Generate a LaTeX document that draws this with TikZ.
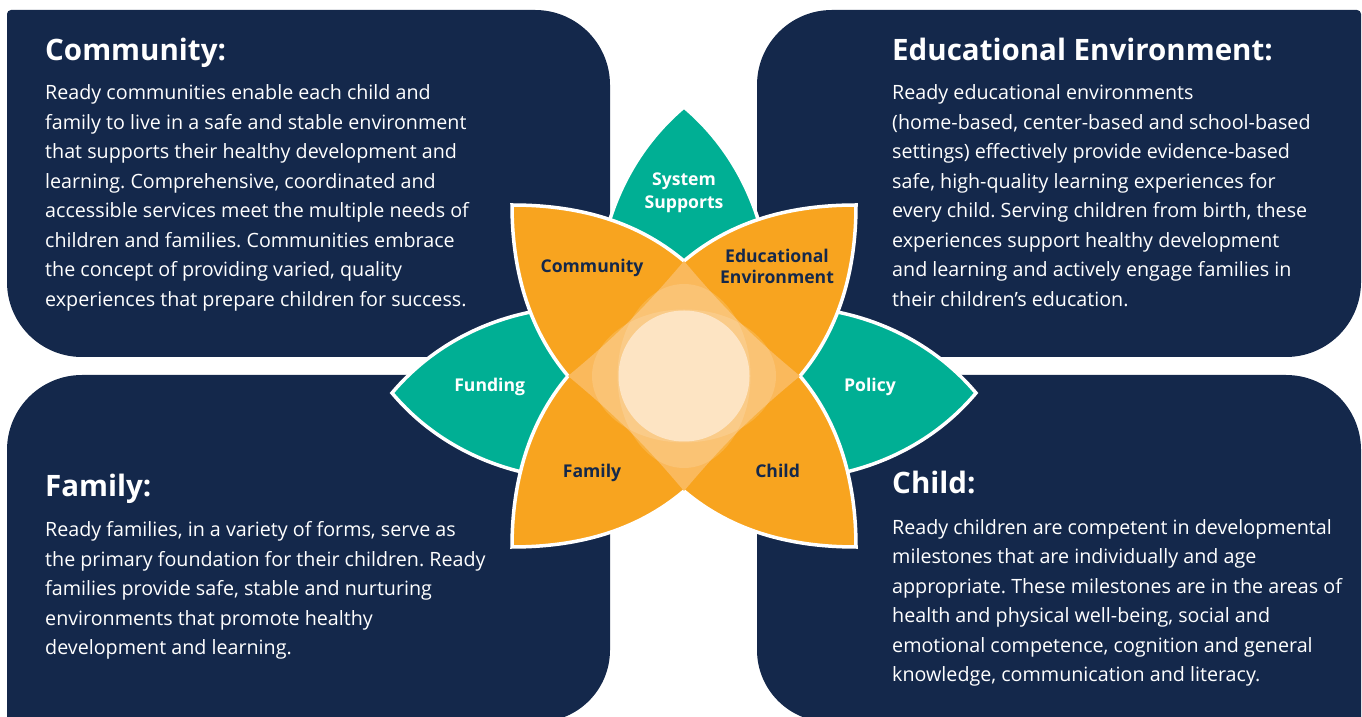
\documentclass[tikz,border=0pt]{standalone}
\usepackage{fontspec}
\setmainfont{Open Sans}
\frenchspacing
\definecolor{navy}{HTML}{14284B}
\definecolor{petal}{HTML}{F8A41F}
\definecolor{leaf}{HTML}{00AF94}
\definecolor{overlap}{HTML}{FAB95C}
\definecolor{core}{HTML}{FDE4C3}
\begin{document}
\begin{tikzpicture}[x=1pt, y=1pt,
  box/.style={fill=navy},
  heading/.style={anchor=base west, inner sep=0pt, text=white, font=\fontsize{29.5}{36}\selectfont\bfseries},
  body/.style={anchor=base west, inner sep=0pt, text=white, align=left, font=\fontsize{19.7}{29.5}\selectfont},
  leafshape/.style={fill=leaf, draw=white, line width=3.5pt},
  petalshape/.style={fill=petal, draw=white, line width=3.5pt},
  glow/.style={fill=white, fill opacity=0.15},
  leaflabel/.style={anchor=base, inner sep=0pt, text=white, align=center, font=\fontsize{17.6}{23.5}\selectfont\bfseries},
  petallabel/.style={anchor=base, inner sep=0pt, text=navy, align=center, font=\fontsize{17.6}{21}\selectfont\bfseries}]
\useasboundingbox (0,0) rectangle (1362,717);
\fill[box] (82,360) arc[start angle=270, end angle=180, radius=75pt] -- (7,703) arc[start angle=180, end angle=90, radius=4pt] -- (535,707) arc[start angle=90, end angle=0, radius=75pt] -- (610,360) -- cycle;
\fill[box] (757,360) -- (757,632) arc[start angle=180, end angle=90, radius=75pt] -- (1357,707) arc[start angle=90, end angle=0, radius=4pt] -- (1361,435) arc[start angle=0, end angle=-90, radius=75pt] -- cycle;
\fill[box] (7,-5) -- (7,267) arc[start angle=180, end angle=90, radius=75pt] -- (610,342) -- (610,67) arc[start angle=0, end angle=-90, radius=72pt] -- cycle;
\fill[box] (757,342) -- (1286,342) arc[start angle=90, end angle=0, radius=75pt] -- (1361,-5) -- (829,-5) arc[start angle=270, end angle=180, radius=72pt] -- cycle;
\coordinate (ctr) at (684,341);
\coordinate (tipcom) at (512,512);
\coordinate (tipedu) at (856,512);
\coordinate (tipfam) at (512,170);
\coordinate (tipchi) at (856,170);
\coordinate (valtop) at (684,456);
\coordinate (valleft) at (568,341);
\coordinate (valright) at (800,341);
\coordinate (valbot) at (684,226);
\coordinate (tipsys) at (684,610);
\coordinate (tipfun) at (392,324);
\coordinate (tippol) at (976,324);
\draw[leafshape] (tipsys) .. controls (799,513) and (799,323) .. (valbot) .. controls (569,323) and (569,513) .. cycle;
\draw[leafshape] (tipfun) .. controls (488.6,439.1) and (679.4,439.1) .. (776,324) .. controls (679.4,208.9) and (488.6,208.9) .. cycle;
\draw[leafshape] (tippol) .. controls (879.4,439.1) and (688.6,439.1) .. (592,324) .. controls (688.6,208.9) and (879.4,208.9) .. cycle;
\draw[petalshape] (tipcom) .. controls (575,512) and (635,497.5) .. (valtop)
  .. controls (733,497.5) and (793,512) .. (tipedu)
  .. controls (856,449) and (840.5,389) .. (valright)
  .. controls (840.5,293) and (856,233) .. (tipchi)
  .. controls (793,170) and (733,184.5) .. (valbot)
  .. controls (635,184.5) and (575,170) .. (tipfam)
  .. controls (512,233) and (527.5,293) .. (valleft)
  .. controls (527.5,389) and (512,449) .. cycle;
\fill[overlap] (valtop) to[bend left=5] (valleft) to[bend left=5] (valbot) to[bend left=5] (valright) to[bend left=5] (valtop) -- cycle;
\fill[glow] (ctr) ellipse[x radius=92pt, y radius=66.5pt];
\fill[glow] (ctr) ellipse[x radius=66.5pt, y radius=92pt];
\fill[core] (ctr) circle[radius=65.5pt];
\node[leaflabel] (lblsys) at (684,508.1) {System\\Supports};
\node[leaflabel] (lblfun) at (489.7,325.6) {Funding};
\node[leaflabel] (lblpol) at (870,325.6) {Policy};
\node[petallabel] (lblcom) at (592,444) {Community};
\node[petallabel] (lbledu) at (777,433.6) {Educational\\Environment};
\node[petallabel] (lblfam) at (592,239) {Family};
\node[petallabel] (lblchi) at (777.6,239) {Child};
\node[heading] (hcom) at (45,656) {Community:};
\node[body] (tcom) at (45,410.5) {Ready communities enable each child and\\family to live in a safe and stable environment\\that supports their healthy development and\\learning. Comprehensive, coordinated and\\accessible services meet the multiple needs of\\children and families. Communities embrace\\the concept of providing varied, quality\\experiences that prepare children for success.};
\node[heading] (hedu) at (892,656) {Educational Environment:};
\node[body] (tedu) at (892,410.5) {Ready educational environments\\(home-based, center-based and school-based\\settings) effectively provide evidence-based\\safe, high-quality learning experiences for\\every child. Serving children from birth, these\\experiences support healthy development\\and learning and actively engage families in\\their children’s education.};
\node[heading] (hfam) at (45,220.5) {Family:};
\node[body] (tfam) at (45,62.3) {Ready families, in a variety of forms, serve as\\the primary foundation for their children. Ready\\families provide safe, stable and nurturing\\environments that promote healthy\\development and learning.};
\node[heading] (hchi) at (892,223) {Child:};
\node[body] (tchi) at (892,35.2) {Ready children are competent in developmental\\milestones that are individually and age\\appropriate. These milestones are in the areas of\\health and physical well-being, social and\\emotional competence, cognition and general\\knowledge, communication and literacy.};
\end{tikzpicture}
\end{document}
